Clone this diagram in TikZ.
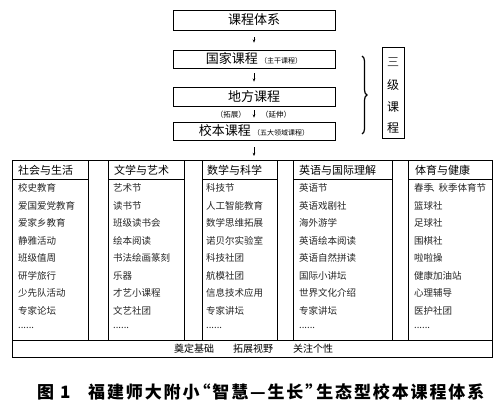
\documentclass[tikz,border=0pt]{standalone}
\usepackage{fontspec}
\setmainfont{Noto Sans CJK SC}
\newfontfamily\capfont[LetterSpace=11]{Noto Sans CJK SC}
\usetikzlibrary{arrows.meta,decorations.pathreplacing}
\newcommand\mydotsix{......}
\tikzset{
  topbox/.style={draw, line width=0.7pt, minimum width=162pt, inner sep=0pt, font=\fontsize{13}{15}\selectfont},
  arr/.style={-{Stealth[length=3.2pt,width=2.6pt]}, line width=0.6pt},
  tline/.style={line width=0.8pt},
  colhead/.style={anchor=west, inner sep=0pt, font=\fontsize{11}{13}\selectfont},
  item/.style={anchor=west, inner sep=0pt, text=black!85, font=\fontsize{9.5}{11}\selectfont},
  smalltxt/.style={inner sep=0pt, font=\fontsize{7.5}{8}\selectfont},
  sjchar/.style={inner sep=0pt, font=\fontsize{12}{13}\selectfont},
  foot/.style={inner sep=0pt, font=\fontsize{10}{12}\selectfont},
  captxt/.style={anchor=west, inner sep=0pt, font=\capfont\fontsize{17}{18}\selectfont\bfseries}
}
\begin{document}
\begin{tikzpicture}[x=1pt,y=-1pt]
\useasboundingbox (0,0) rectangle (500,417);
% top boxes
\node[topbox, minimum height=20pt] (t1) at (254,20) {课程体系};
\node[topbox, minimum height=18pt] (t2) at (254,59) {国家课程\,{\fontsize{7}{8}\selectfont（主干课程）}};
\node[topbox, minimum height=19pt] (t3) at (254,96.5) {地方课程};
\node[topbox, minimum height=18pt] (t4) at (254,131) {校本课程\,{\fontsize{7}{8}\selectfont（五大领域课程）}};
\coordinate (tabtop) at (254,160);
\draw[arr, shorten <=7pt, shorten >=7pt] (t1) -- (t2);
\draw[arr, shorten <=5pt, shorten >=5pt] (t2) -- (t3);
\draw[arr, shorten <=4pt, shorten >=4pt] (t3) -- (t4);
\draw[arr, shorten <=7pt, shorten >=4pt] (t4) -- (tabtop);
\node[smalltxt, anchor=east] (tz) at (246,114.5) {（拓展）};
\node[smalltxt, anchor=west] (ys) at (261,114.5) {（延伸）};
% three-level
\node[draw, line width=0.7pt, minimum width=22pt, minimum height=91pt, inner sep=0pt] (sj) at (393,92.5) {};
\node[sjchar, text=black!70] (sj1) at (393,62) {三};
\node[sjchar] (sj2) at (393,85) {级};
\node[sjchar] (sj3) at (393,107) {课};
\node[sjchar] (sj4) at (393,128) {程};
\draw[decorate, decoration={brace, amplitude=5pt}, line width=1.2pt] (362,56) -- (362,134);
% table frame
\draw[tline] (12,160) rectangle (492,357);
\draw[tline] (12,340) -- (492,340);
\foreach \xx in {88,108,184,202,277,293,392,408} \draw[tline] (\xx,160) -- (\xx,340);
\draw[tline] (12,179) -- (88,179);
\draw[tline] (108,179) -- (184,179);
\draw[tline] (202,179) -- (277,179);
\draw[tline] (293,179) -- (392,179);
\draw[tline] (408,179) -- (492,179);
% headers
\node[colhead] (h1) at (18,170) {社会与生活};
\node[colhead] (h2) at (114,170) {文学与艺术};
\node[colhead] (h3) at (207,170) {数学与科学};
\node[colhead] (h4) at (299,170) {英语与国际理解};
\node[colhead] (h5) at (415,170) {体育与健康};
% items
\foreach \t [count=\i] in {校史教育,爱国爱党教育,爱家乡教育,静雅活动,班级值周,研学旅行,少先队活动,专家论坛,\mydotsix}
  \node[item] (a\i) at (18,{170.5+17.5*\i}) {\t};
\foreach \t [count=\i] in {艺术节,读书节,班级读书会,绘本阅读,书法绘画篆刻,乐器,才艺小课程,文艺社团,\mydotsix}
  \node[item] (b\i) at (113,{170.5+17.5*\i}) {\t};
\foreach \t [count=\i] in {科技节,人工智能教育,数学思维拓展,诺贝尔实验室,科技社团,航模社团,信息技术应用,专家讲坛,\mydotsix}
  \node[item] (c\i) at (206,{170.5+17.5*\i}) {\t};
\foreach \t [count=\i] in {英语节,英语戏剧社,海外游学,英语绘本阅读,英语自然拼读,国际小讲坛,世界文化介绍,专家讲坛,\mydotsix}
  \node[item] (d\i) at (299,{170.5+17.5*\i}) {\t};
\foreach \t [count=\i] in {春季\kern-2pt、\kern-2pt秋季体育节,篮球社,足球社,围棋社,啦啦操,健康加油站,心理辅导,医护社团,\mydotsix}
  \node[item] (e\i) at (414,{170.5+17.5*\i}) {\t};
% footer
\node[foot] (f1) at (194,348.5) {奠定基础};
\node[foot] (f2) at (253,348.5) {拓展视野};
\node[foot] (f3) at (313,348.5) {关注个性};
% caption
\node[captxt] (c0) at (37,392) {图\hspace{6pt}1};
\node[captxt] (cm) at (88,392) {福建师大附小\kern-6pt“智慧—生长”\kern-6pt生态型校本课程体系};
\end{tikzpicture}
\end{document}
